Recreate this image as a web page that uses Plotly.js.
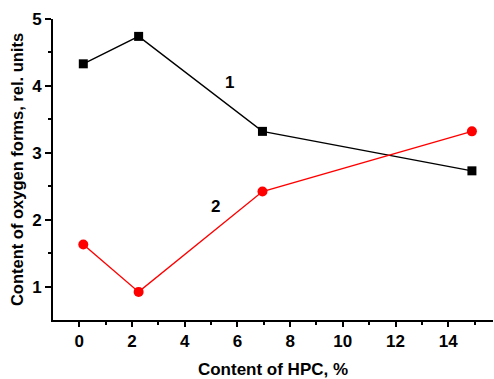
<!DOCTYPE html>
<html>
<head>
<meta charset="utf-8">
<script src="https://cdn.plot.ly/plotly-3.0.1.min.js"></script>
<style>html,body{margin:0;padding:0;background:#fff;}#chart{width:494px;height:379px;}</style>
</head>
<body>
<div id="chart"></div>
<script>
const hpc = [0.15, 2.25, 6.95, 14.9];
const series1 = [4.33, 4.74, 3.32, 2.73];
const series2 = [1.63, 0.92, 2.42, 3.32];
const seriesLabels = ["1", "2"];
const labelPos = [[5.7, 4.05], [5.15, 2.2]];
const xTickVals = [0, 2, 4, 6, 8, 10, 12, 14];
const yTickVals = [1, 2, 3, 4, 5];
const xTitle = "Content of HPC, %";
const yTitle = "Content of oxygen forms, rel. units";

const fontFam = "Liberation Sans, Arial, sans-serif";
const b = s => "<b>" + s + "</b>";

const traces = [
  {x: hpc, y: series1, mode: "lines+markers", line: {color: "#000", width: 1.4},
   marker: {symbol: "square", size: 9, color: "#000"}, showlegend: false},
  {x: hpc, y: series2, mode: "lines+markers", line: {color: "#ff0000", width: 1.4},
   marker: {symbol: "circle", size: 10, color: "#ff0000"}, showlegend: false}
];

const axisCommon = {
  showline: true, linecolor: "#000", linewidth: 2, mirror: false,
  showgrid: false, zeroline: false,
  ticks: "outside", ticklen: 5, tickwidth: 2, tickcolor: "#000",
  tickfont: {family: fontFam, size: 17, color: "#000"}
};

const layout = {
  width: 494, height: 379,
  margin: {l: 53, r: 1, t: 19, b: 59},
  paper_bgcolor: "#fff", plot_bgcolor: "#fff",
  font: {family: fontFam, color: "#000"},
  xaxis: Object.assign({}, axisCommon, {
    range: [-1, 15.7], tickmode: "array", tickvals: xTickVals, ticktext: xTickVals.map(v => b(v)),
    minor: {ticks: "outside", ticklen: 3, tickwidth: 2, tickcolor: "#000", tickvals: [1,3,5,7,9,11,13,15]},
    title: {text: b(xTitle), font: {family: fontFam, size: 17, color: "#000"}, standoff: 14}
  }),
  yaxis: Object.assign({}, axisCommon, {
    range: [0.5, 5], tickmode: "array", tickvals: yTickVals, ticktext: yTickVals.map(v => b(v)),
    ticklen: 6,
    minor: {ticks: "outside", ticklen: 3, tickwidth: 2, tickcolor: "#000", tickvals: [1.5,2.5,3.5,4.5]},
    title: {text: b(yTitle), font: {family: fontFam, size: 16.5, color: "#000"}, standoff: 4}
  }),
  annotations: seriesLabels.map((t, i) => ({
    x: labelPos[i][0], y: labelPos[i][1], text: b(t), showarrow: false,
    font: {family: fontFam, size: 17, color: "#000"}
  }))
};

Plotly.newPlot("chart", traces, layout, {displayModeBar: false, staticPlot: true});
</script>
</body>
</html>
